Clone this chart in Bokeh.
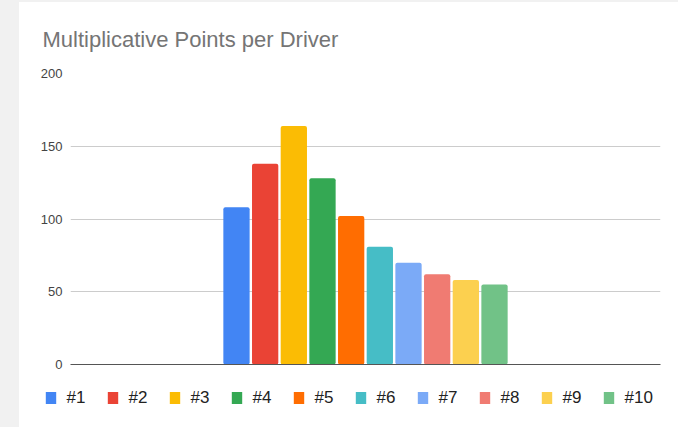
from bokeh.plotting import figure
from bokeh.models import FactorRange, Range1d, ColumnDataSource, Spacer, Legend, LegendItem
from bokeh.layouts import row, column
from bokeh.embed import file_html
from bokeh.resources import INLINE

drivers = ["#1", "#2", "#3", "#4", "#5", "#6", "#7", "#8", "#9", "#10"]
points = [108, 138, 164, 128, 102, 81, 70, 62, 58, 55]
colors = ["#4285F4", "#EA4335", "#FBBC04", "#34A853", "#FF6D01",
          "#46BDC6", "#7BAAF7", "#F07B72", "#FCD04F", "#71C287"]
y_ticks = [0, 50, 100, 150, 200]

src = ColumnDataSource(dict(driver=drivers, points=points, color=colors))

# ---- main chart ----
p = figure(
    width=659, height=372,
    x_range=FactorRange(factors=drivers, range_padding=5.29, range_padding_units="absolute"),
    y_range=Range1d(0, 200),
    output_backend="svg", toolbar_location=None,
    min_border_left=51, min_border_right=18, min_border_top=71, min_border_bottom=10,
    title="Multiplicative Points per Driver",
)
p.outline_line_color = None
p.background_fill_color = "white"
p.border_fill_color = "white"

p.vbar(x="driver", top="points", width=0.917, source=src, fill_color="color",
       line_color=None, border_radius=2)

p.title.text_font = "Liberation Sans"
p.title.text_font_size = "22px"
p.title.text_font_style = "normal"
p.title.text_color = "#757575"
p.title.offset = -28
p.title.standoff = 43

p.yaxis.ticker = y_ticks
p.yaxis.axis_line_color = None
p.yaxis.major_tick_line_color = None
p.yaxis.major_tick_out = 0
p.yaxis.major_tick_in = 0
p.yaxis.minor_tick_line_color = None
p.yaxis.major_label_text_font = "Liberation Sans"
p.yaxis.major_label_text_font_size = "13px"
p.yaxis.major_label_text_color = "#444444"
p.yaxis.major_label_standoff = 8

p.xaxis.axis_line_color = "#555555"
p.xaxis.axis_line_width = 1
p.xaxis.major_tick_line_color = None
p.xaxis.major_tick_out = 0
p.xaxis.major_tick_in = 0
p.xaxis.minor_tick_line_color = None
p.xaxis.major_label_text_color = None
p.xaxis.major_label_text_font_size = "1px"
p.xaxis.major_label_standoff = 0

p.xgrid.grid_line_color = None
p.ygrid.grid_line_color = "#cccccc"

# ---- legend strip (same data, hidden bars, legend only) ----
pl = figure(
    width=659, height=53,
    x_range=FactorRange(factors=drivers), y_range=Range1d(0, 200),
    output_backend="svg", toolbar_location=None,
    x_axis_location=None, y_axis_location=None, min_border=0,
)
pl.outline_line_color = None
pl.grid.visible = False
pl.border_fill_color = "white"
pl.background_fill_color = "white"
rl = pl.vbar(x="driver", top="points", width=0.917, source=src, fill_color="color",
             line_color=None, visible=False)

legend_x = -26.5
for fig in (p, pl):
    if hasattr(fig, "frame_align"):
        fig.frame_align = False
        legend_x = 24.5

items = [LegendItem(label=d, renderers=[rl], index=i) for i, d in enumerate(drivers)]
lg = Legend(items=items, location=(legend_x, 19.5), orientation="horizontal")
lg.padding = 0
lg.margin = 0
lg.border_line_color = None
lg.background_fill_alpha = 0
lg.glyph_width = 13
lg.glyph_height = 15
lg.label_standoff = 10
lg.spacing = 19
lg.label_text_font = "Liberation Sans"
lg.label_text_font_size = "17px"
lg.label_text_color = "#222222"
pl.add_layout(lg, "center")

top_strip = Spacer(width=678, height=2, styles={"background-color": "#f1f1f1"})
left_strip = Spacer(width=19, height=425, styles={"background-color": "#f1f1f1"})
layout = column(top_strip, row(left_strip, column(p, pl, spacing=0), spacing=0), spacing=0)

open("out.html", "w").write(file_html(layout, INLINE))
